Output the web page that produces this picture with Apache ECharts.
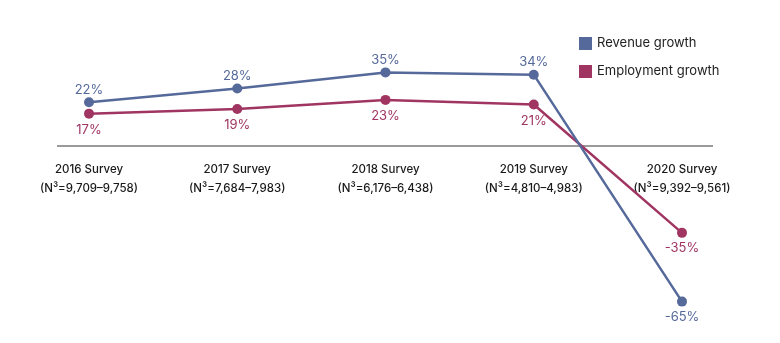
<!DOCTYPE html>
<html>
<head>
<meta charset="utf-8">
<script src="https://cdn.jsdelivr.net/npm/echarts@6/dist/echarts.min.js"></script>
<style>html,body{margin:0;padding:0;background:#fff}#c{width:780px;height:343px}</style>
</head>
<body>
<div id="c"></div>
<script>
const categories = ['2016 Survey\n(N³=9,709–9,758)', '2017 Survey\n(N³=7,684–7,983)', '2018 Survey\n(N³=6,176–6,438)', '2019 Survey\n(N³=4,810–4,983)', '2020 Survey\n(N³=9,392–9,561)'];
const revenueGrowth = [22, 28, 35, 34, -65];
const employmentGrowth = [17, 19, 23, 21, -35];
const seriesNames = ['Revenue growth', 'Employment growth'];
const BLUE = '#55699a', RED = '#a03562';
const FONT = 'Inter, Roboto, sans-serif';

const chart = echarts.init(document.getElementById('c'), null, {renderer: 'canvas'});
chart.setOption({
  animation: false,
  textStyle: {fontFamily: FONT},
  grid: {left: 89, right: 98, top: 38, bottom: 7, containLabel: false, outerBoundsMode: 'none'},
  legend: {
    orient: 'vertical', left: 574, top: 32,
    itemWidth: 13, itemHeight: 13, itemGap: 15,
    icon: 'rect',
    textStyle: {fontSize: 13, color: '#222', fontFamily: FONT},
    data: seriesNames
  },
  graphic: [{
    type: 'line', silent: true, z: 0,
    shape: {x1: 57, y1: 146, x2: 713, y2: 146},
    style: {stroke: '#9a9a9a', lineWidth: 2}
  }],
  xAxis: {
    type: 'category', boundaryGap: false, data: categories,
    position: 'bottom', offset: -183,
    axisLine: {show: false, onZero: false}, axisTick: {show: false},
    axisLabel: {show: true, margin: 7, fontSize: 11.5, lineHeight: 19, color: '#1a1a1a', fontWeight: 500, fontFamily: FONT, interval: 0, hideOverlap: false}
  },
  yAxis: {type: 'value', min: -80, max: 50, show: false, splitLine: {show: false}},
  series: [
    {
      name: seriesNames[0], type: 'line',
      symbol: 'circle', symbolSize: 10,
      lineStyle: {color: BLUE, width: 2.5}, itemStyle: {color: BLUE},
      label: {
        show: true, formatter: '{c}%', color: BLUE, fontSize: 13, fontFamily: FONT,
        position: 'top', distance: 1
      },
      data: revenueGrowth.map((v, i) => i === 4 ? {value: v, label: {position: 'bottom', distance: 4}} : v),
      z: 3
    },
    {
      name: seriesNames[1], type: 'line',
      symbol: 'circle', symbolSize: 10,
      lineStyle: {color: RED, width: 2.5}, itemStyle: {color: RED},
      label: {
        show: true, formatter: '{c}%', color: RED, fontSize: 13, fontFamily: FONT,
        position: 'bottom', distance: 5
      },
      data: employmentGrowth.map((v, i) => i === 4 ? {value: v, label: {distance: 4}} : v),
      z: 2
    }
  ]
});
</script>
</body>
</html>
